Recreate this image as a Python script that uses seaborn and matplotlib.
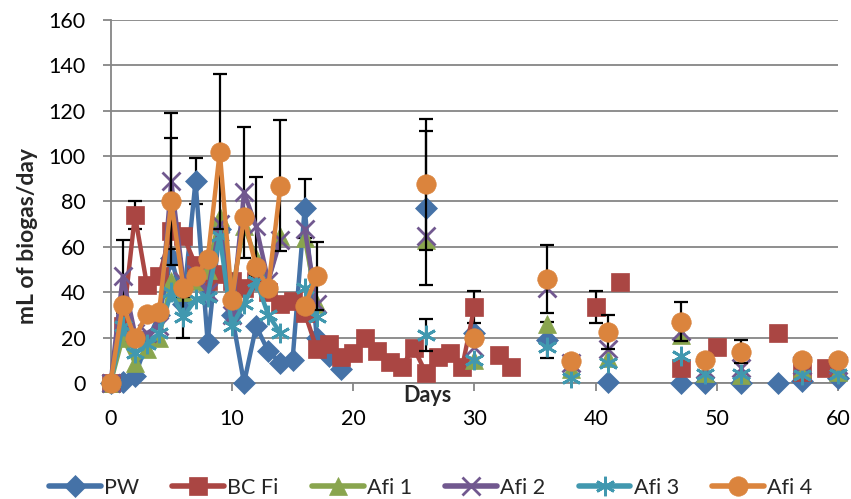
import numpy as np
import pandas as pd
import matplotlib
matplotlib.use("Agg")
import matplotlib.pyplot as plt
from matplotlib.lines import Line2D
import seaborn as sns

# daily biogas per treatment (mL/day)
pw_days = [0, 1, 2, 3, 4, 5, 6, 7, 8, 9, 10, 11, 12, 13, 14, 15, 16, 17, 18, 19,
           26, 30, 36, 41, 47, 49, 52, 55, 57, 60]
pw_vals = [0, 0.5, 3, 18, 30, 55, 35, 89, 18, 68, 30, 0, 25, 14, 9, 10, 77, 20, 12, 6,
           77, 22, 19, 0.6, 0, 0, 0, 0, 1, 2]

bc_days = list(range(0, 31)) + [32, 33, 40, 42, 47, 50, 55, 57, 59]
bc_vals = [0, 25, 74, 43, 47, 67, 65, 52, 45, 48, 45, 42, 45, 40, 35, 36, 31, 15, 17, 11.6,
           13, 20, 14, 9.3, 7.2, 15.4, 4.4, 11.6, 13.2, 7.2, 33.6,
           12.3, 7.2, 33.6, 44.6, 6.6, 15.9, 22, 5, 6.6]

afi_days = [0, 1, 2, 3, 4, 5, 6, 7, 8, 9, 10, 11, 12, 13, 14, 16, 17,
            26, 30, 36, 38, 41, 47, 49, 52, 57, 60]
afi1_vals = [0, 20, 9, 15, 20, 45, 40, 45, 50, 73, 40, 69, 55, 45, 65, 64, 35,
             63, 10, 26, 6, 11, 21, 4.4, 3.5, 6.6, 5]
afi2_vals = [0, 47, 22, 22, 25, 89, 45, 48, 40, 70, 30, 84, 69, 45, 63, 68, 35,
             65, 16, 42, 9, 15, 23, 6, 6.6, 8, 8]
afi3_vals = [0, 25, 13, 17, 22, 40, 29, 37, 38, 65, 25, 35, 45, 30, 22, 42, 29,
             21, 10, 16, 2, 9, 12, 4, 4, 3.5, 4]
afi4_vals = [0, 34.5, 20, 30.5, 31.5, 80, 42, 47, 54.5, 102, 36.5, 73, 51, 42, 87, 34, 47,
             87.5, 20, 46, 9.5, 22.6, 27, 10, 13.8, 10, 10]

# standard deviations shown as error bars (day: sd)
pw_err = {7: 10, 16: 13, 26: 34, 36: 8}
bc_err = {2: 6, 30: 7, 40: 7}
afi1_err = {}
afi2_err = {1: 16, 5: 30, 11: 29, 12: 22}
afi3_err = {6: 9, 26: 7}
afi4_err = {5: 28, 9: 34, 14: 29, 17: 15, 26: 29, 36: 15, 41: 7.5, 47: 8.5, 52: 5}

labels = ["PW", "BC Fi", "Afi 1", "Afi 2", "Afi 3", "Afi 4"]
colors = ["#4572A7", "#AA4643", "#89A54E", "#71588F", "#4198AF", "#DB843D"]
markers = ["D", "s", "^", "x", (6, 2, 0), "o"]
msizes = [11, 13, 13, 13, 14, 14]

series = [
    (pw_days, pw_vals, pw_err),
    (bc_days, bc_vals, bc_err),
    (afi_days, afi1_vals, afi1_err),
    (afi_days, afi2_vals, afi2_err),
    (afi_days, afi3_vals, afi3_err),
    (afi_days, afi4_vals, afi4_err),
]

sns.set_theme(style="white")
plt.rcParams['font.family'] = ['Lato', 'DejaVu Sans']

fig = plt.figure(figsize=(8.51, 4.99), dpi=100)
ax = fig.add_axes([0.130, 0.2325, 0.855, 0.7275])

grey = "#868686"
ax.yaxis.grid(True, color=grey, lw=1.3)
ax.set_axisbelow(True)

for i, (days, vals, err) in enumerate(series):
    d = np.array(days)
    df = pd.DataFrame({"day": d, "val": vals})
    # break the line where days are missing, like excel does with blanks
    df["seg"] = np.concatenate([[0], np.cumsum(np.diff(d) > 1)])
    z = 3 + i
    if err:
        ed = list(err.keys())
        ev = [vals[days.index(k)] for k in ed]
        ax.errorbar(ed, ev, yerr=list(err.values()), fmt="none", ecolor="black",
                    elinewidth=1.6, capsize=5, capthick=1.6, zorder=z - 0.5, clip_on=False)
    line_markers = markers[i] in ("x", (6, 2, 0))
    sns.lineplot(data=df, x="day", y="val", units="seg", estimator=None, sort=False,
                 color=colors[i], lw=3.2, marker=markers[i], markersize=msizes[i],
                 markeredgecolor=colors[i], markeredgewidth=2 if line_markers else 0.5,
                 ax=ax, legend=False, clip_on=False, zorder=z)

ax.set_xlim(0, 60)
ax.set_ylim(0, 160)
ax.set_xticks(range(0, 61, 10))
ax.set_yticks(range(0, 161, 20))
for s in ["top", "right"]:
    ax.spines[s].set_visible(False)
for s in ["left", "bottom"]:
    ax.spines[s].set_color(grey)
    ax.spines[s].set_linewidth(1.3)
ax.tick_params(axis="both", direction="out", length=6, width=1.3, color=grey,
               labelsize=15.5, labelcolor="black")
ax.tick_params(axis="y", pad=12, left=True)
ax.tick_params(axis="x", pad=13, bottom=True)

ax.set_ylabel("mL of biogas/day", fontweight="bold", fontsize=16.5, va="center")
ax.yaxis.set_label_coords(-0.114, 0.405)
ax.set_xlabel("Days", fontweight="bold", fontsize=15.5, va="center")
ax.xaxis.set_label_coords(0.435, -0.035)

handles = [Line2D([], [], color=c, lw=4, marker=m, markersize=ms, markeredgecolor=c,
                  markeredgewidth=2 if m in ("x", (6, 2, 0)) else 0.5)
           for c, m, ms in zip(colors, markers, msizes)]
fig.legend(handles, labels, loc="center", bbox_to_anchor=(0.506, 0.023), ncol=6,
           frameon=False, fontsize=15.5, handlelength=2.4, handletextpad=0.15,
           columnspacing=1.55)

fig.savefig("out.png", dpi=100)
